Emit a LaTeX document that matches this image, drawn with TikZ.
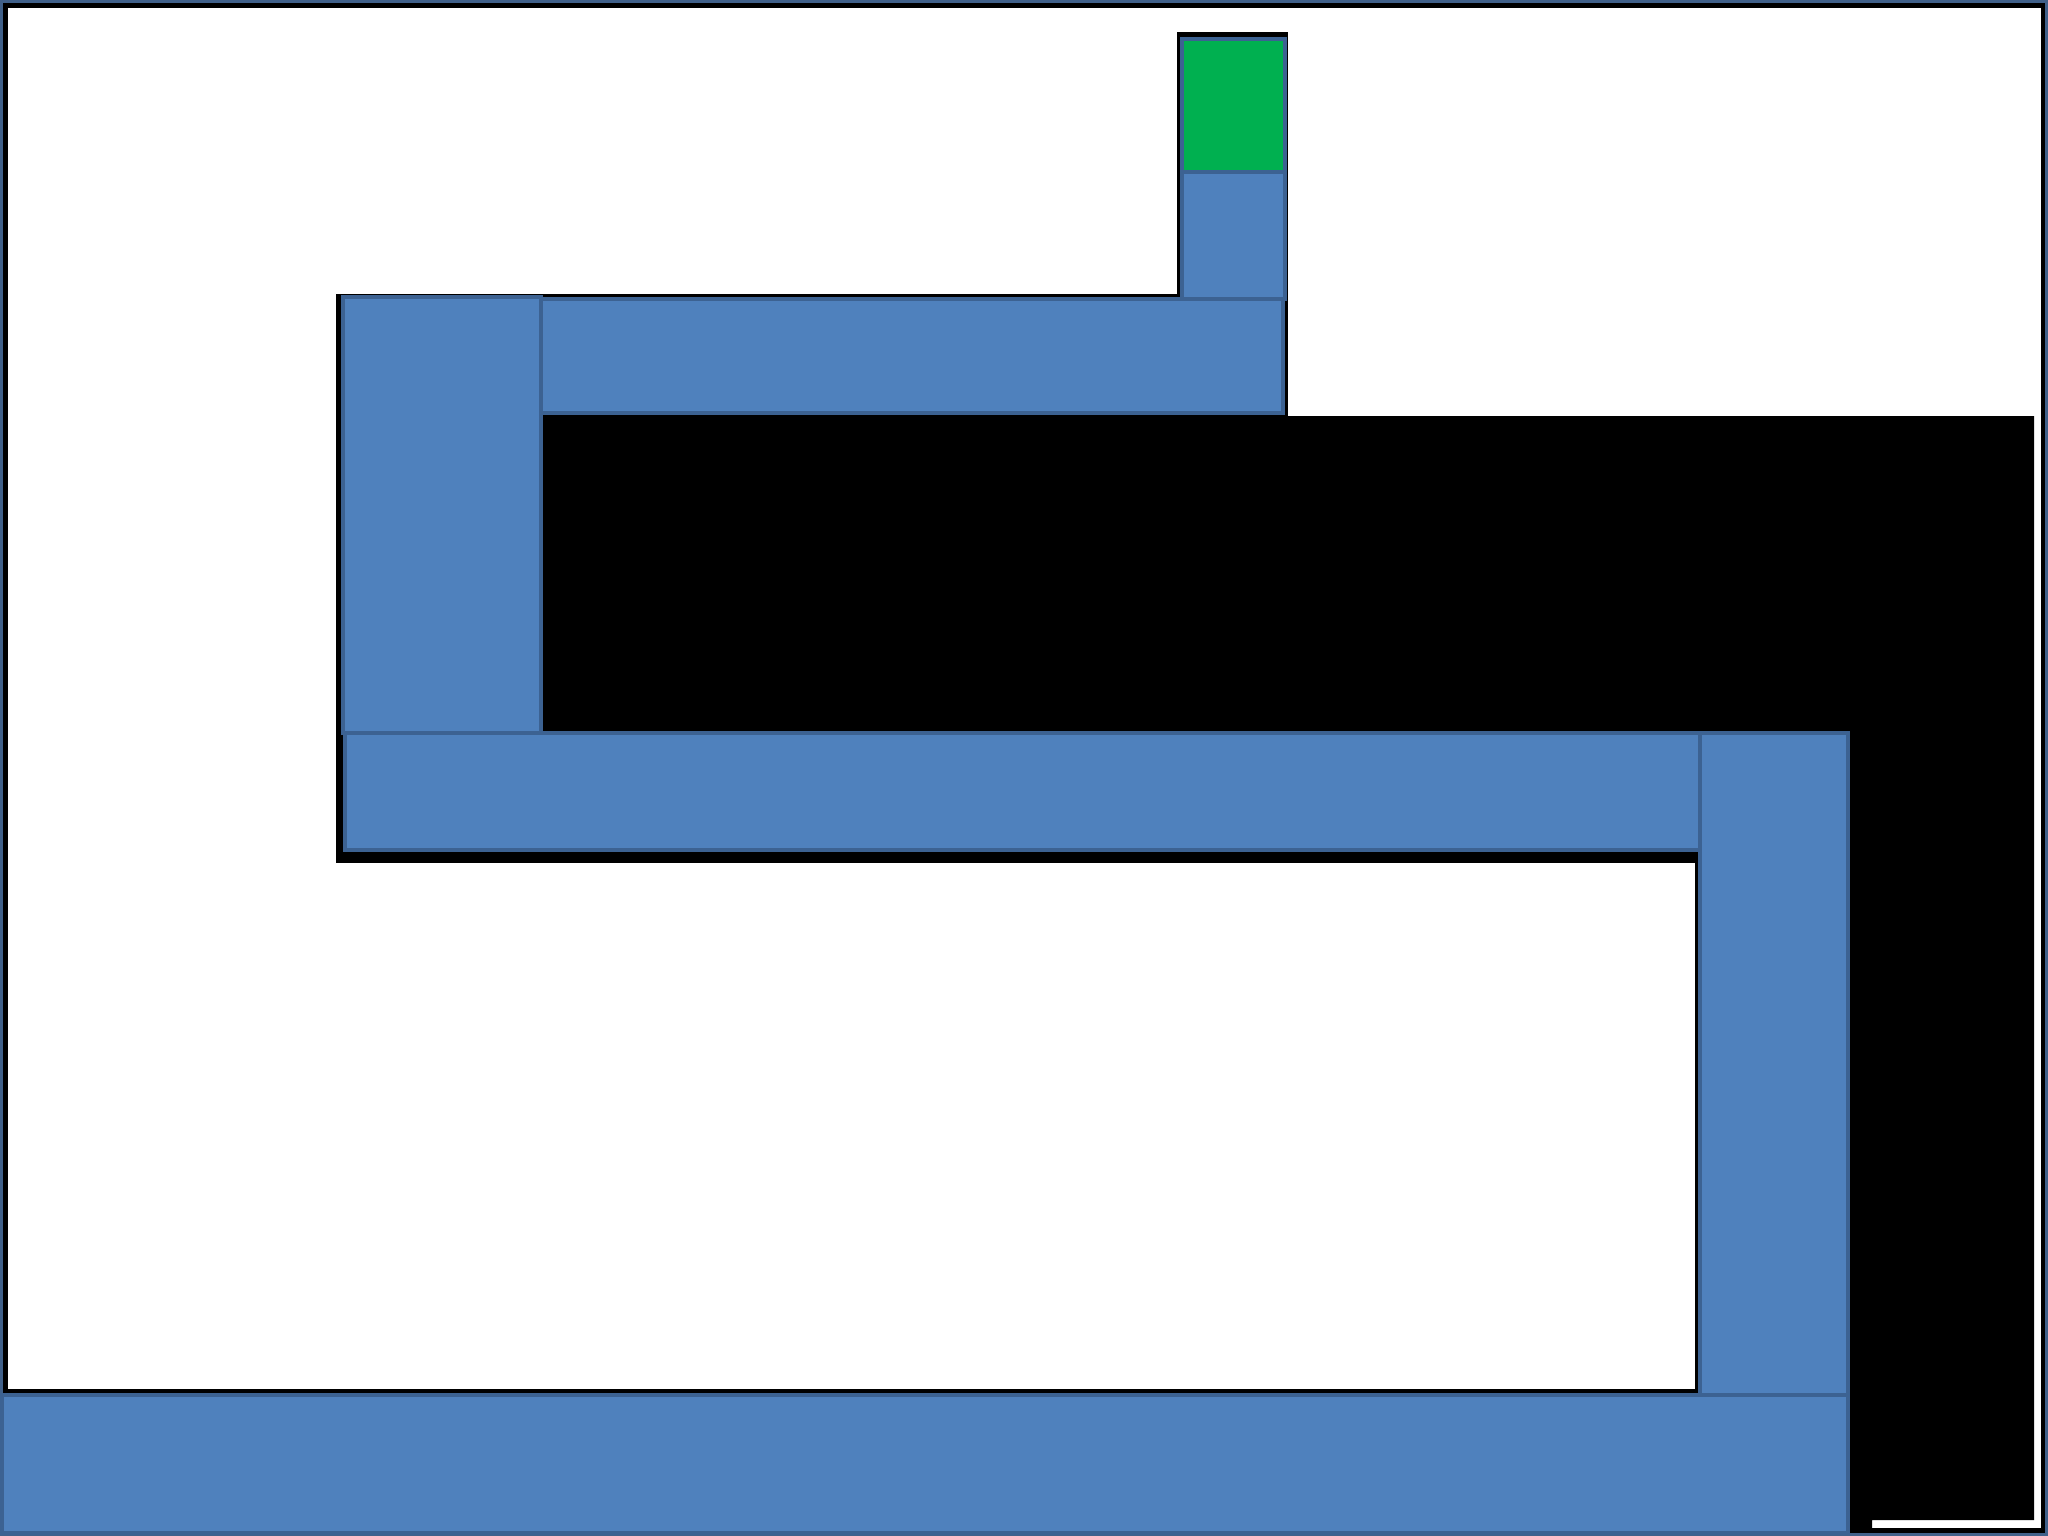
\documentclass[tikz,border=0pt]{standalone}
\usepackage{tikz}
\definecolor{pathblue}{HTML}{4F81BD}
\definecolor{pathedge}{HTML}{3C6292}
\definecolor{goalgreen}{HTML}{00B050}
\definecolor{frameedge}{HTML}{41618A}
\begin{document}
\begin{tikzpicture}[x=0.01cm, y=-0.01cm,
    cell/.style={fill=pathblue, draw=pathedge, line width=0.9pt},
    shade/.style={fill=black, draw=none}]
    \useasboundingbox (0,0) rectangle (2048,1536);

    % Frame
    \fill[white] (0,0) rectangle (2048,1536);
    \draw[frameedge, line width=0.9pt] (1,1) rectangle (2047,1535);
    \draw[black, line width=1.4pt] (5.5,1395) -- (5.5,5.5) -- (2043,5.5)
        -- (2043,1530.5) -- (1848,1530.5);

    % Dark region
    \fill[black] (543,416) -- (2034,416) -- (2034,1520) -- (1872,1520)
        -- (1872,1530) -- (1848,1530) -- (1848,733) -- (543,733) -- cycle;

    % Outline behind the path
    \path[shade] (1177,32) rectangle (1288,299);
    \path[shade] (336,294) rectangle (1288,416);
    \path[shade] (336,294) rectangle (543,733);
    \path[shade] (336,733) rectangle (1700,863);
    \path[shade] (1695,733) rectangle (1848,1395);
    \path[shade] (3,1389) rectangle (1700,1395);

    % Path
    \draw[cell] (1182,172) rectangle (1285,299);
    \draw[cell] (541,299) rectangle (1283,413);
    \draw[cell] (343,297) rectangle (541,733);
    \draw[cell] (345,733) rectangle (1700,850);
    \draw[cell] (1700,733) rectangle (1848,1395);
    \draw[cell] (2,1395) rectangle (1848,1533);

    % Goal
    \draw[cell, fill=goalgreen] (1182,39) rectangle (1285,172);
\end{tikzpicture}
\end{document}
